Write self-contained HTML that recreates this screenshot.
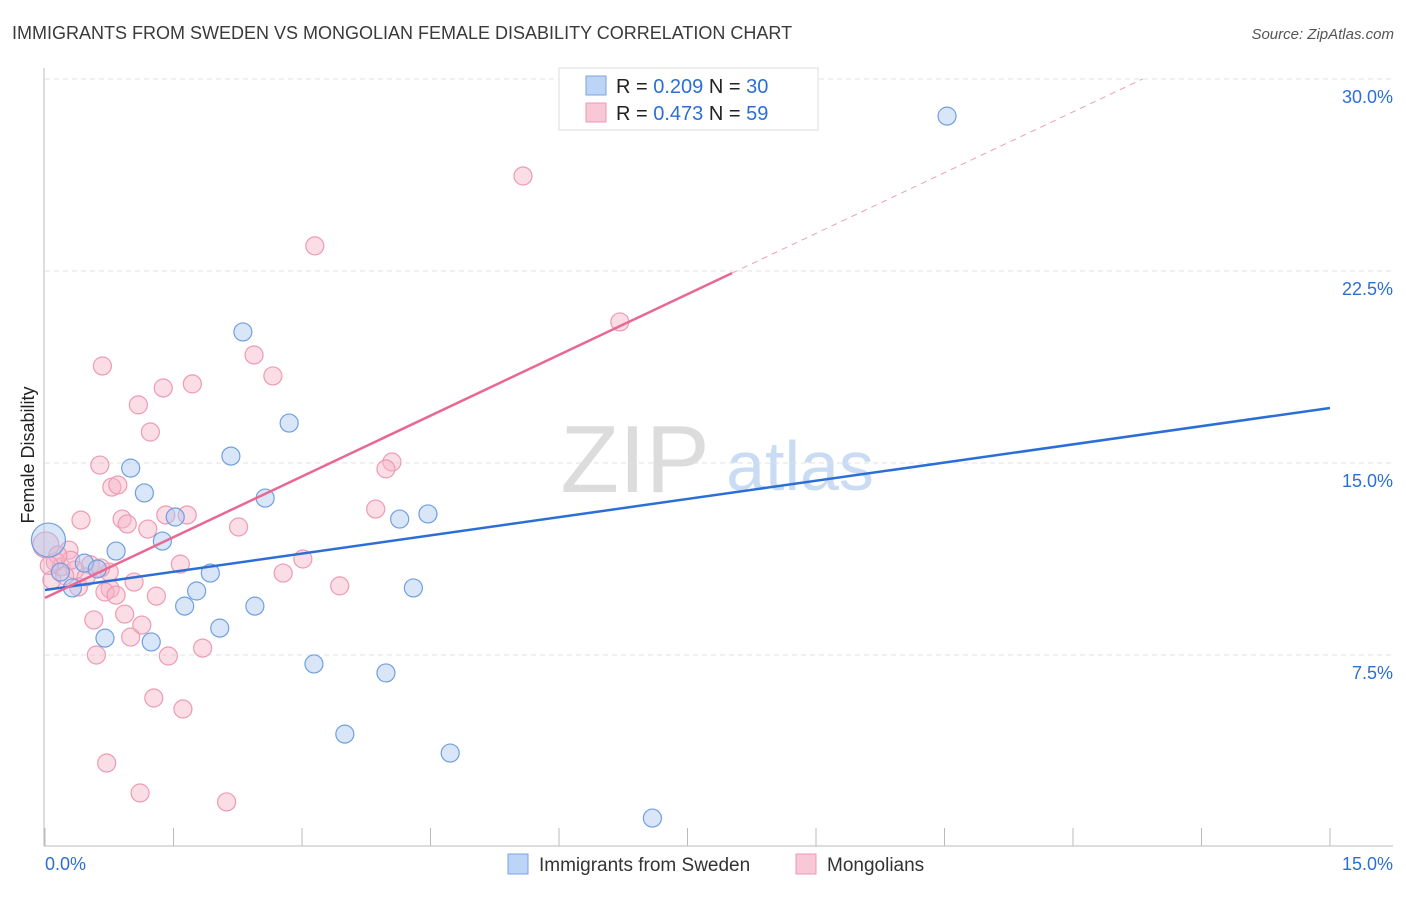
<!DOCTYPE html>
<html><head><meta charset="utf-8"><style>
body{margin:0;background:#fff;font-family:"Liberation Sans",sans-serif}
svg text{font-family:"Liberation Sans",sans-serif}
</style></head><body>
<svg id="chart" width="1406" height="892" xmlns="http://www.w3.org/2000/svg">
<text x="12" y="39" font-size="18" fill="#3a3a3a">IMMIGRANTS FROM SWEDEN VS MONGOLIAN FEMALE DISABILITY CORRELATION CHART</text>
<text x="1394" y="39" font-size="15" fill="#555" text-anchor="end" font-style="italic">Source: ZipAtlas.com</text>
<text transform="translate(34,455) rotate(-90)" font-size="18" fill="#222" text-anchor="middle">Female Disability</text>
<g><text x="635" y="492" font-size="96" fill="#dcdcdc" text-anchor="middle" font-family="Liberation Serif,serif">ZIP</text><text x="800" y="490" font-size="70" fill="#c9dcf3" text-anchor="middle">atlas</text></g>
<g id="grid"></g><g id="axes"></g><g id="marks"></g>
<g>
<rect x="559" y="68" width="259" height="62" fill="#fff" stroke="#ddd"/>
<rect x="586" y="76" width="20" height="19" fill="#bcd4f5" stroke="#7aa5e0"/>
<rect x="586" y="103" width="20" height="19" fill="#f8c8d6" stroke="#ee99b3"/>
<text x="616" y="93" font-size="20" fill="#222">R = <tspan fill="#2b6fd6">0.209</tspan>   N = <tspan fill="#2b6fd6">30</tspan></text>
<text x="616" y="120" font-size="20" fill="#222">R = <tspan fill="#2b6fd6">0.473</tspan>   N = <tspan fill="#2b6fd6">59</tspan></text>
</g>
<g>
<rect x="508" y="854" width="20" height="20" fill="#bcd4f5" stroke="#7aa5e0"/>
<text x="539" y="871" font-size="19" fill="#333">Immigrants from Sweden</text>
<rect x="796" y="854" width="20" height="20" fill="#f8c8d6" stroke="#ee99b3"/>
<text x="827" y="871" font-size="19" fill="#333">Mongolians</text>
</g>
</svg>
<script>
const yTicks=[7.5,15,22.5,30];
const yTickLabels=["7.5%","15.0%","22.5%","30.0%"];
const xTickLabels=["0.0%","15.0%"];
const swedenX=[10.53,2.31,2.85,2.17,1.00,1.16,2.57,1.52,4.14,4.47,1.37,0.83,0.46,0.61,1.93,0.18,0.32,1.77,4.30,1.63,2.45,2.04,0.70,1.24,3.14,3.98,3.50,4.73,7.09,0.04];
const swedenY=[28.55,20.12,16.56,15.27,14.80,13.83,13.63,12.89,12.81,13.01,11.95,11.56,11.09,10.86,10.70,10.74,10.12,10.00,10.12,9.41,9.41,8.55,8.16,8.01,7.15,6.80,4.41,3.67,1.13,11.99];
const mongX=[5.58,3.15,6.71,2.44,0.67,2.66,1.72,1.38,1.09,1.23,0.64,4.05,3.98,0.78,0.85,3.86,0.42,0.90,0.96,1.66,1.41,1.20,2.26,0.28,3.01,1.58,0.12,0.19,0.53,0.35,0.75,2.78,3.44,1.04,0.39,0.76,0.48,0.70,0.83,1.30,0.93,0.57,1.13,1.00,1.84,1.44,0.60,1.27,1.61,0.72,1.11,2.12,0.01,0.08,0.23,0.30,0.65,0.15,0.05];
const mongY=[26.21,23.48,20.51,19.22,18.79,18.40,18.09,17.93,17.27,16.21,14.92,15.04,14.77,14.06,14.14,13.20,12.77,12.81,12.62,12.97,12.97,12.42,12.50,11.60,11.25,11.05,11.13,10.94,11.02,10.82,10.74,10.70,10.20,10.35,10.16,10.08,10.55,9.96,9.84,9.80,9.10,8.87,8.67,8.20,7.77,7.46,7.50,5.82,5.39,3.28,2.11,1.76,11.80,10.43,10.6,11.2,10.9,11.4,11.0];
const swedenLine=[10.04,17.15];
const mongLine=[9.73,1.582];
const NS="http://www.w3.org/2000/svg";
const X=v=>45+v*1285/15, Y=v=>847-v*768/30;
function mk(t,a,p){const e=document.createElementNS(NS,t);for(const k in a)e.setAttribute(k,a[k]);p.appendChild(e);return e;}
const grid=document.getElementById('grid'),axes=document.getElementById('axes'),marks=document.getElementById('marks');
yTicks.forEach((t,i)=>{const l=mk('line',{x1:45,x2:1393,y1:Y(t),y2:Y(t),stroke:'#e0e0e0','stroke-dasharray':'5,4'},grid);


const tx=mk('text',{x:1393,y:Y(t)+24,'font-size':18,fill:'#2b6fd6','text-anchor':'end'},axes);tx.textContent=yTickLabels[i];

});
const ax=mk('line',{x1:44,x2:44,y1:68,y2:846,stroke:'#bbb'},axes);


const bx=mk('line',{x1:44,x2:1393,y1:846,y2:846,stroke:'#bbb'},axes);


for(let i=0;i<=10;i++){const t=mk('line',{x1:X(i*1.5),x2:X(i*1.5),y1:828,y2:846,stroke:'#bbb'},axes);

}
const xl0=mk('text',{x:45,y:870,'font-size':18,fill:'#2b6fd6'},axes);xl0.textContent=xTickLabels[0];


const xl1=mk('text',{x:1393,y:870,'font-size':18,fill:'#2b6fd6','text-anchor':'end'},axes);xl1.textContent=xTickLabels[1];


mongX.forEach((x,i)=>{const c=mk('circle',{cx:X(x),cy:Y(mongY[i]),r:(i==52?13:9),fill:'rgba(246,180,200,0.45)',stroke:'#ee9ab4','stroke-width':1.2},marks);

});
swedenX.forEach((x,i)=>{const c=mk('circle',{cx:X(x),cy:Y(swedenY[i]),r:(i==29?17:9),fill:'rgba(170,200,240,0.45)',stroke:'#6f9fe0','stroke-width':1.2},marks);

});
const bl=mk('line',{x1:X(0),y1:Y(swedenLine[0]),x2:X(15),y2:Y(swedenLine[1]),stroke:'#2b6fd6','stroke-width':2.5},marks);


const xs=8.02,xe=(30-mongLine[0])/mongLine[1];
const pl=mk('line',{x1:X(0),y1:Y(mongLine[0]),x2:X(xs),y2:Y(mongLine[0]+mongLine[1]*xs),stroke:'#e86892','stroke-width':2.5},marks);


const pd=mk('line',{x1:X(xs),y1:Y(mongLine[0]+mongLine[1]*xs),x2:X(xe),y2:Y(30),stroke:'#eaa0b8','stroke-width':1,'stroke-dasharray':'6,5'},marks);


</script>
</body></html>
